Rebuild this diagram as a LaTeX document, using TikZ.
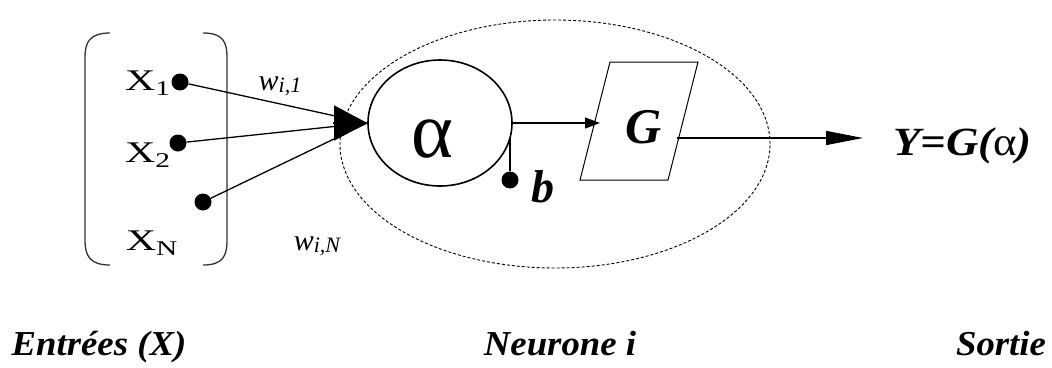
\documentclass[tikz,border=0pt]{standalone}
\usepackage{fontspec}
\setmainfont{Liberation Serif}
\usetikzlibrary{arrows.meta,shapes.geometric}
\tikzset{
  dotnode/.style={circle,fill=black,minimum size=17pt,inner sep=0pt},
  lbl/.style={inner sep=0pt,anchor=base},
  conn/.style={line width=1.3pt},
  botlbl/.style={inner sep=0pt,anchor=base,font=\fontsize{35}{35}\selectfont\bfseries\itshape},
}
\begin{document}
\begin{tikzpicture}[x=1pt,y=-1pt]
\useasboundingbox (0,0) rectangle (1052,367);
% neuron dashed ellipse
\node[ellipse,draw,dash pattern=on 3pt off 2pt,line width=0.9pt,minimum width=430pt,minimum height=248pt,inner sep=0pt] (neuron) at (555,144) {};
% brackets
\draw[line width=1.3pt,black!80] (110,33) .. controls (90,33) and (85,42) .. (85,57) -- (85,240) .. controls (85,256) and (90,265) .. (110,265);
\draw[line width=1.3pt,black!80] (203,33) .. controls (223,33) and (227,42) .. (227,57) -- (227,240) .. controls (227,256) and (223,265) .. (203,265);
% inputs
\node[lbl] (x1) at (148,90) {\fontsize{30}{30}\selectfont\scalebox{1.4}[1]{X\textsubscript{1}}};
\node[lbl] (x2) at (148,162) {\fontsize{30}{30}\selectfont\scalebox{1.4}[1]{X\textsubscript{2}}};
\node[lbl] (xn) at (152,250) {\fontsize{30}{30}\selectfont\scalebox{1.4}[1]{X\textsubscript{N}}};
\node[dotnode] (d1) at (180,82) {};
\node[dotnode] (d2) at (178,143) {};
\node[dotnode] (dn) at (203,202) {};
% weights
\node[lbl] (w1) at (280,90) {\fontsize{30}{30}\selectfont\itshape w\raisebox{-2pt}{\fontsize{22}{22}\selectfont i,1}};
\node[lbl] (wn) at (317,250) {\fontsize{30}{30}\selectfont\itshape w\raisebox{-2pt}{\fontsize{22}{22}\selectfont i,N}};
% alpha
\node[ellipse,draw,line width=1.6pt,minimum width=144pt,minimum height=126pt,inner sep=0pt] (alpha) at (440,123) {};
\node[lbl] (alphatxt) at (432,157) {\fontsize{80}{80}\selectfont α};
% converging connectors
\draw[conn] (d1) -- (alpha.west);
\draw[conn] (d2) -- (alpha.west);
\draw[conn] (dn) -- (alpha.west);
\coordinate (headbase) at ([xshift=-34pt]alpha.west);
\draw[line width=1.3pt,-{Triangle[length=33pt,width=35pt]}] (headbase) -- (alpha.west);
% bias
\node[dotnode] (bdot) at (510,180) {};
\draw[conn] (bdot) -- (bdot |- alpha.-12);
\node[lbl] (b) at (543,202) {\fontsize{46}{46}\selectfont\bfseries\itshape b};
% G block (parallelogram)
\draw[line width=1pt] (610,62) -- (698,62) -- (668,180) -- (580,180) -- cycle;
\node[lbl] (G) at (644,143) {\fontsize{50}{50}\selectfont\bfseries\itshape G};
\coordinate (gin) at (600,123);
\draw[conn,-{Triangle[length=15pt,width=11pt]}] (alpha.east) -- (gin);
% output
\coordinate (gout) at (677,138);
\node[inner sep=0pt,anchor=base west] (Y) at (893,155) {\fontsize{40}{40}\selectfont\scalebox{1.12}[1]{\bfseries\itshape Y=G(\upshape\mdseries α\bfseries\itshape)}};
\draw[conn,-{Triangle[length=37pt,width=14pt]}] (gout) -- ([xshift=-30pt]gout -| Y.west);
% bottom labels
\node[botlbl] (lin) at (99,355) {\scalebox{1.05}[1]{Entrées (X)}};
\node[botlbl] (lneu) at (560,355) {\scalebox{1.05}[1]{Neurone i}};
\node[botlbl] (lout) at (1001,355) {\scalebox{1.05}[1]{Sortie}};
\end{tikzpicture}
\end{document}
